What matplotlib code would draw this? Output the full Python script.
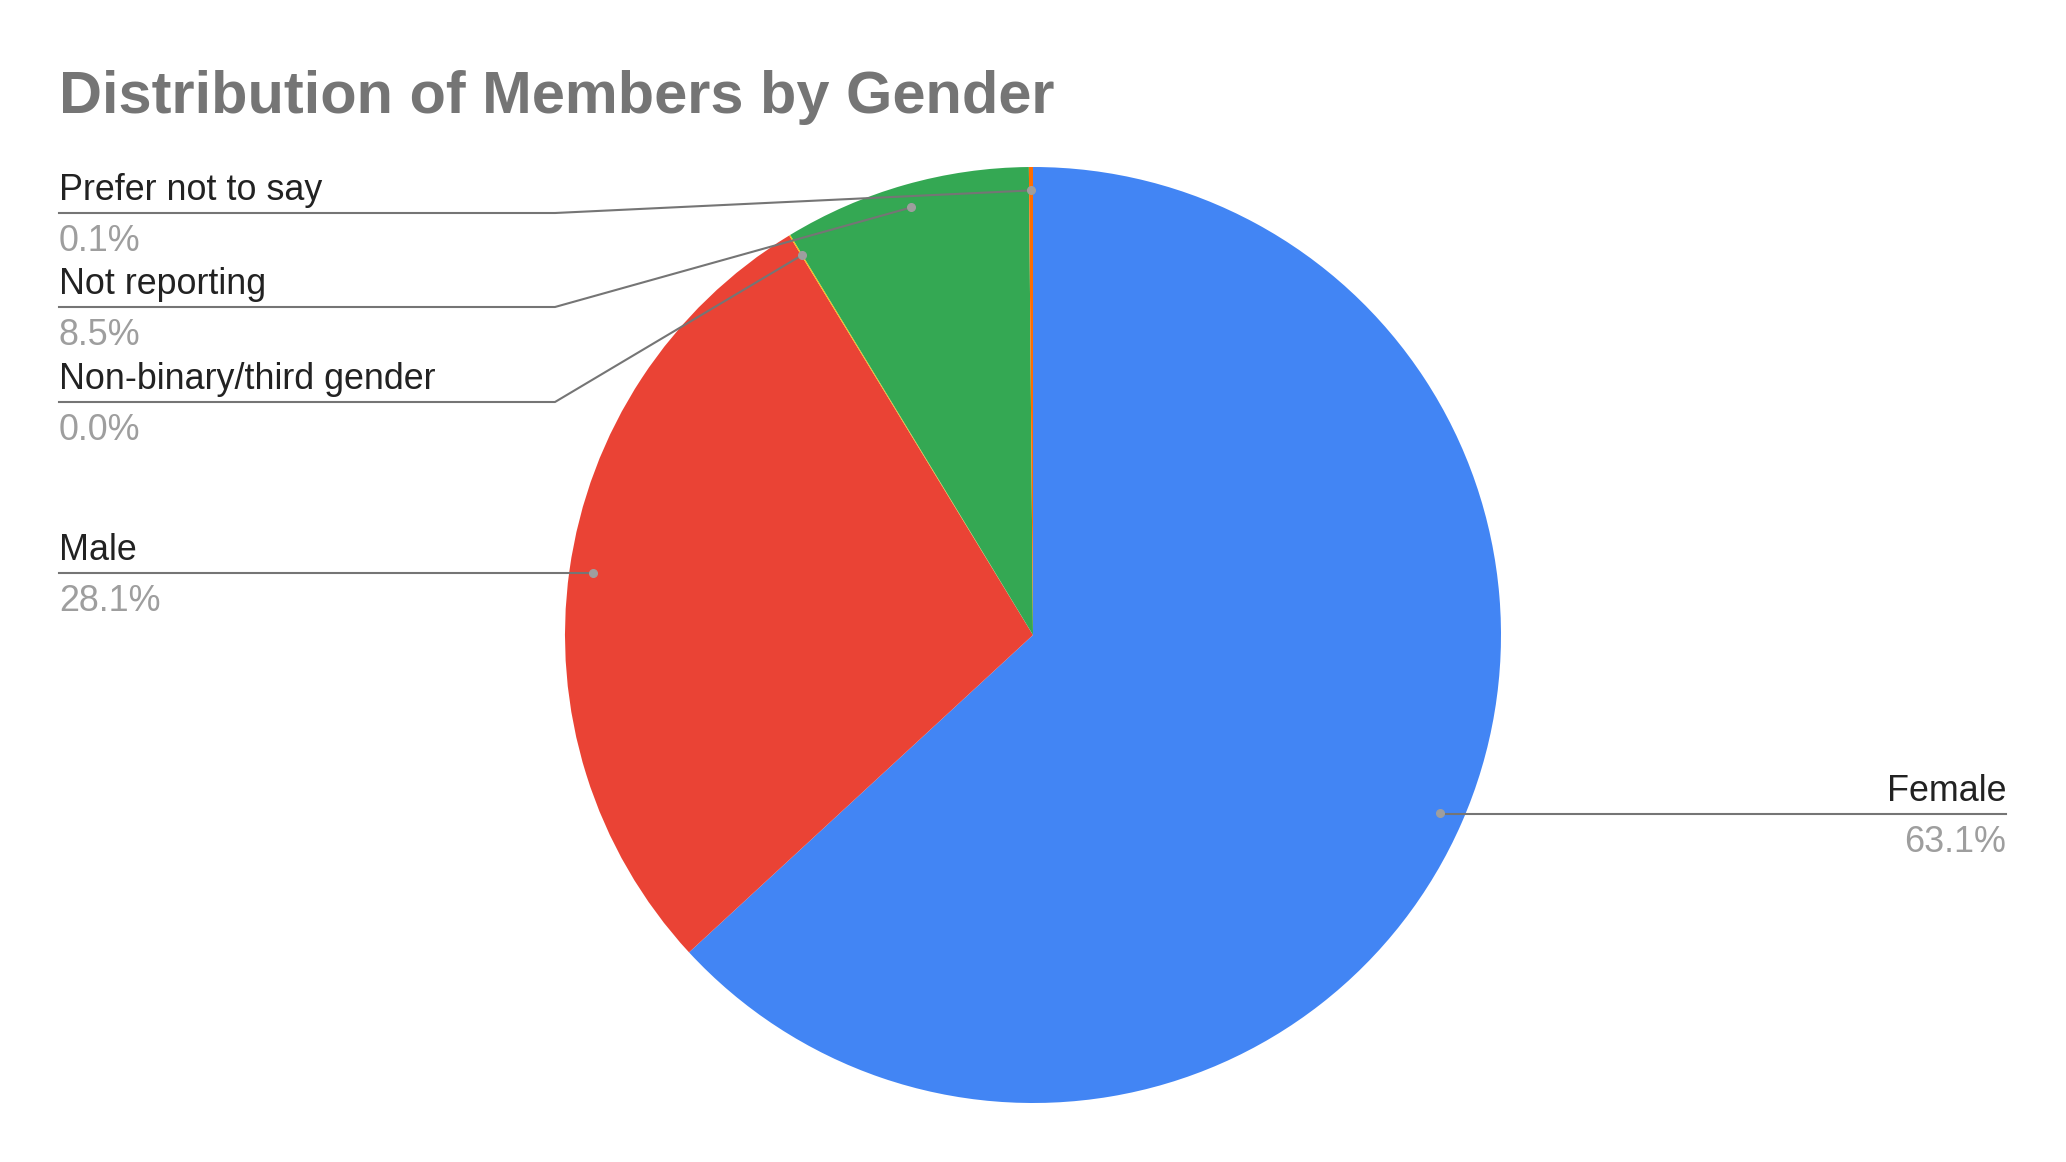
import numpy as np
import matplotlib.pyplot as plt

# datos del grafico (porcentajes)
categories = ["Female", "Male", "Non-binary/third gender", "Not reporting", "Prefer not to say"]
values = [63.14, 28.14, 0.04, 8.54, 0.14]
colors = ["#4285F4", "#EA4335", "#FBBC04", "#34A853", "#FF6D01"]
title = "Distribution of Members by Gender"

W, H = 2066, 1162
plt.rcParams['font.family'] = ['Liberation Sans', 'DejaVu Sans']

fig = plt.figure(figsize=(W / 100, H / 100), dpi=100)
ax = fig.add_axes([0, 0, 1, 1])

# pie
cx, cy, r = 1033, H - 635, 468
wedges, _ = ax.pie(values, colors=colors, startangle=90, counterclock=False,
                   center=(cx, cy), radius=r, wedgeprops=dict(linewidth=0))
ax.set_aspect('auto')
ax.set_xlim(0, W)
ax.set_ylim(0, H)
ax.axis('off')

fig.text(59 / W, 1 - 113 / H, title, fontsize=42.8, fontweight='bold',
         color='#757575', va='baseline', ha='left')

# posicion de las etiquetas (y de la linea guia, en pixeles desde arriba)
label_y = {"Female": 814, "Male": 573, "Non-binary/third gender": 402,
           "Not reporting": 307, "Prefer not to say": 213}

total = sum(values)
line_c = '#757575'
for w, name, v in zip(wedges, categories, values):
    mid = np.deg2rad((w.theta1 + w.theta2) / 2)
    dx = cx + 0.95 * r * np.cos(mid)
    dy = cy + 0.95 * r * np.sin(mid)
    ly = H - label_y[name]
    pct = f"{v / total * 100:.1f}%"
    if name == "Female":
        ax.plot([dx, 2006], [ly, ly], color=line_c, lw=1.5, zorder=3)
        xt, ha = 2006, 'right'
    elif name == "Male":
        ax.plot([59, dx], [ly, ly], color=line_c, lw=1.5, zorder=3)
        xt, ha = 59, 'left'
    else:
        ax.plot([59, 555, dx], [ly, ly, dy], color=line_c, lw=1.5, zorder=3)
        xt, ha = 59, 'left'
    ax.plot(dx, dy, 'o', color='#9e9e9e', markersize=5.5, zorder=4)
    ax.text(xt, ly + 13, name, fontsize=25.8, color='#222222', ha=ha, va='baseline')
    ax.text(xt, ly - 38, pct, fontsize=25.8, color='#9e9e9e', ha=ha, va='baseline')

fig.savefig("out.png", dpi=100, facecolor='white')
